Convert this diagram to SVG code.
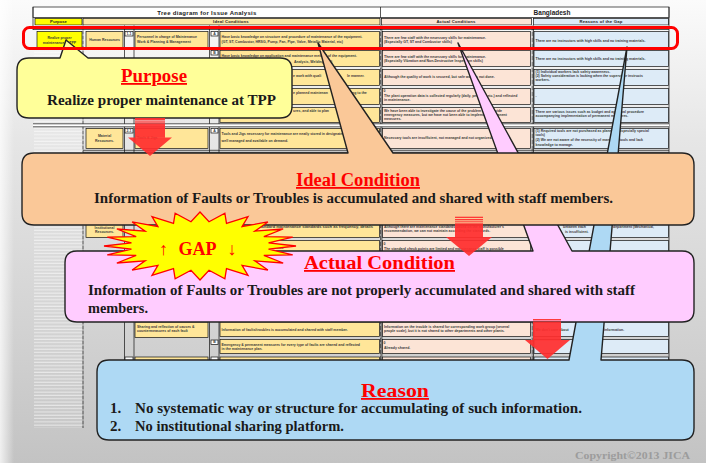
<svg xmlns="http://www.w3.org/2000/svg" width="706" height="463" viewBox="0 0 706 463">
  <defs>
    <linearGradient id="bg" x1="0" y1="0" x2="0" y2="1">
      <stop offset="0" stop-color="#fbfbfb"/>
      <stop offset="0.3" stop-color="#e6e6e6"/>
      <stop offset="0.7" stop-color="#d3d3d3"/>
      <stop offset="1" stop-color="#c3c3c3"/>
    </linearGradient>
    <linearGradient id="edge" x1="0" y1="0" x2="1" y2="0">
      <stop offset="0" stop-color="#ffffff" stop-opacity="0.75"/>
      <stop offset="1" stop-color="#ffffff" stop-opacity="0"/>
    </linearGradient>
    <pattern id="stripes" width="6" height="3.3" patternUnits="userSpaceOnUse">
      <rect y="2.2" width="6" height="1" fill="#ffffff" fill-opacity="0.6"/>
    </pattern>
  </defs>
  <style>
    .c { stroke: #111; stroke-width: 0.7; }
    .w { fill: #ffffff; }
    .cat { fill: #ffe699; }
    .id { fill: #ffe699; }
    .ac { fill: #fce4d6; }
    .rs { fill: #ddebf7; }
    .col { stroke: #111; stroke-width: 0.7; fill: none; }
    .t { font-family: "Liberation Sans", Arial, sans-serif; font-size: 3.5px; font-weight: bold; fill: #3a3a3a; }
    .tc { font-family: "Liberation Sans", Arial, sans-serif; font-size: 3.5px; font-weight: bold; fill: #3a3a3a; text-anchor: middle; }
    .hd { font-family: "Liberation Sans", Arial, sans-serif; font-weight: bold; fill: #222; text-anchor: middle; }
    .call { stroke: #222; stroke-width: 1.4; stroke-linejoin: round; }
    .title { font-family: "Liberation Serif", "Times New Roman", serif; font-weight: bold; font-size: 18px; fill: #ff0000; text-anchor: middle; text-decoration: underline; }
    .body { font-family: "Liberation Serif", "Times New Roman", serif; font-weight: bold; font-size: 15px; fill: #1a1a1a; }
    .arrow { fill: #ff2e2e; fill-opacity: 0.93; }
    .gap { font-family: "Liberation Serif", "DejaVu Serif", serif; font-weight: bold; font-size: 18px; fill: #ff0000; text-anchor: middle; }
  </style>

  <!-- slide background -->
  <rect x="0" y="0" width="706" height="463" fill="url(#bg)"/>
  <rect x="0" y="0" width="14" height="463" fill="url(#edge)"/>

  <!-- issue analysis sheet -->
  <g id="table">
    <rect x="34" y="48" width="48.5" height="380" fill="url(#stripes)"/>
    <!-- header -->
    <rect class="c w" x="33" y="7" width="636" height="10.5"/>
    <line class="col" x1="380.5" y1="7" x2="380.5" y2="17.5"/>
    <text class="hd" x="207" y="15.3" font-size="6px" letter-spacing="0.3">Tree diagram for Issue Analysis</text>
    <text class="hd" x="552" y="15.3" font-size="6.5px">Bangladesh</text>
    <rect class="c" x="35" y="18.5" width="47" height="6.5" fill="#ffff00"/>
    <rect class="c" x="83" y="18.5" width="297" height="6.5" fill="#fde8a6"/>
    <rect class="c ac" x="381.5" y="18.5" width="150" height="6.5"/>
    <rect class="c rs" x="533.5" y="18.5" width="135" height="6.5"/>
    <text class="hd" x="58.5" y="23.3" font-size="4.2px">Purpose</text>
    <text class="hd" x="231" y="23.3" font-size="4.2px" letter-spacing="0.2">Ideal Conditions</text>
    <text class="hd" x="456" y="23.3" font-size="4.2px" letter-spacing="0.2">Actual Conditions</text>
    <text class="hd" x="601" y="23.3" font-size="4.2px" letter-spacing="0.2">Reasons of the Gap</text>
    <rect x="33" y="25.5" width="636" height="4" fill="#ffffff"/>
    <line class="col" x1="33" y1="29.5" x2="669" y2="29.5"/>
    <line class="col" x1="33" y1="7" x2="33" y2="30"/>

    <!-- column rules -->
    <line class="col" x1="83" y1="25.5" x2="83" y2="428" stroke-dasharray="4 1"/>
    <line class="col" x1="124.5" y1="25.5" x2="124.5" y2="430"/>
    <line class="col" x1="134" y1="25.5" x2="134" y2="430"/>
    <line class="col" x1="209.5" y1="25.5" x2="209.5" y2="430"/>
    <line class="col" x1="219" y1="25.5" x2="219" y2="430"/>
    <line class="col" x1="380.6" y1="25.5" x2="380.6" y2="430" stroke-dasharray="5 1"/>
    <line class="col" x1="381.9" y1="25.5" x2="381.9" y2="430"/>
    <line class="col" x1="532.2" y1="25.5" x2="532.2" y2="430" stroke-dasharray="5 1"/>
    <line class="col" x1="533.5" y1="25.5" x2="533.5" y2="430"/>
    <line class="col" x1="669" y1="7" x2="669" y2="430"/>
    <!-- group separators -->
    <rect x="33" y="123.8" width="636" height="3" fill="#ffffff"/>
    <line class="col" x1="33" y1="123.8" x2="669" y2="123.8"/>
    <line class="col" x1="33" y1="126.8" x2="669" y2="126.8"/>
    <line class="col" x1="83" y1="150.3" x2="669" y2="150.3"/>
    <line class="col" x1="83" y1="152.3" x2="669" y2="152.3"/>

    <!-- row 1-1 A -->
    <rect class="c" x="37" y="31.5" width="45" height="16" fill="#ffff00"/>
    <text class="tc" x="59.5" y="38.5">Realize proper</text>
    <text class="tc" x="59.5" y="43.5">maintenance at TPP</text>
    <rect class="c cat" x="86" y="31.5" width="37" height="16"/>
    <text class="tc" x="104.5" y="40.8">Human Resources</text>
    <rect class="c w" x="125" y="31.5" width="8" height="4.5"/>
    <text class="tc" x="129" y="34.9" font-size="3px">1-1</text>
    <rect class="c cat" x="135" y="31.5" width="73" height="16"/>
    <text class="t" x="137" y="37.8">Personnel in charge of Maintenance</text>
    <text class="t" x="137" y="42.8">Work &amp; Planning &amp; Management</text>
    <rect class="c w" x="211" y="31.5" width="7" height="4.5"/>
    <text class="tc" x="214.5" y="34.9" font-size="3px">A</text>
    <rect class="c id" x="220" y="31.5" width="159.5" height="16"/>
    <text class="t" x="221.5" y="37.8">Have basic knowledge on structure and procedure of maintenance of the equipment.</text>
    <text class="t" x="221.5" y="43">(GT, ST, Combustor, HRSG, Pump, Fan, Pipe, Valve, Metallic Material, etc)</text>
    <rect class="c ac" x="382.5" y="31.5" width="148" height="16"/>
    <text class="t" x="384" y="38.5">There are few staff with the necessary skills for maintenance.</text>
    <text class="t" x="384" y="43">(Especially GT, ST and Combustor skills)</text>
    <rect class="c rs" x="534" y="31.5" width="134.5" height="16"/>
    <text class="t" x="535.5" y="41.5">There are no instructors with high skills and no training materials.</text>

    <!-- row B -->
    <rect class="c w" x="211" y="50.5" width="7" height="4.5"/>
    <text class="tc" x="214.5" y="53.9" font-size="3px">B</text>
    <rect class="c id" x="220" y="50.5" width="159.5" height="16"/>
    <text class="t" x="221.5" y="56.5">Have basic knowledge on application and maintenance method of the equipment.</text>
    <text class="t" x="294" y="62.5">Analysis, Welding, etc)</text>
    <rect class="c ac" x="382.5" y="50.5" width="148" height="16"/>
    <text class="t" x="384" y="57.5">There are few staff with the necessary skills for maintenance.</text>
    <text class="t" x="384" y="62">(Especially Vibration and Non-Destructive Inspection skills)</text>
    <rect class="c rs" x="534" y="50.5" width="134.5" height="16"/>
    <text class="t" x="535.5" y="59.5">There are no instructors with high skills and no training materials.</text>

    <!-- row C -->
    <rect class="c id" x="220" y="69.5" width="159.5" height="16"/>
    <text class="t" x="293" y="77">e work with quali</text>
    <text class="t" x="347" y="77">le manner.</text>
    <rect class="c ac" x="382.5" y="69.5" width="148" height="16"/>
    <text class="t" x="384" y="77.5">Although the quality of work is secured, but safe work is not done.</text>
    <rect class="c rs" x="534" y="69.5" width="134.5" height="16"/>
    <text class="t" x="535.5" y="73">(1) Individual workers lack safety awareness.</text>
    <text class="t" x="535.5" y="77">(2) Safety consideration is lacking when the supervisor instructs</text>
    <text class="t" x="535.5" y="81">workers.</text>

    <!-- row D -->
    <rect class="c id" x="220" y="88.5" width="159.5" height="16"/>
    <text class="t" x="293" y="93.5">e planned maintenan</text>
    <text class="t" x="352" y="93.5">ng to the</text>
    <rect class="c ac" x="382.5" y="88.5" width="148" height="16"/>
    <text class="t" x="383.5" y="92" font-size="4.5px">0</text>
    <text class="t" x="384" y="96.5">The plant operation data is collected regularly (daily, per hour etc.) and reflected</text>
    <text class="t" x="384" y="101">in maintenance.</text>
    <rect class="c rs" x="534" y="88.5" width="134.5" height="16"/>
    <text class="t" x="535.5" y="96.5">-</text>

    <!-- row E -->
    <rect class="c id" x="220" y="107.5" width="159.5" height="15"/>
    <text class="t" x="293" y="112">ures, and able to plan</text>
    <rect class="c ac" x="382.5" y="107.5" width="148" height="15"/>
    <text class="t" x="384" y="111.5">We have been able to investigate the cause of the problem and provide</text>
    <text class="t" x="384" y="115.7">emergency measures, but we have not been able to implement permanent</text>
    <text class="t" x="384" y="119.9">measures.</text>
    <rect class="c rs" x="534" y="107.5" width="134.5" height="15"/>
    <text class="t" x="535.5" y="112.5">There are various issues such as budget and approval procedure</text>
    <text class="t" x="535.5" y="117">accompanying implementation of permanent measures.</text>

    <!-- row 2-1 A -->
    <rect class="c cat" x="86" y="128.5" width="37" height="20"/>
    <text class="tc" x="104.5" y="136.5">Material</text>
    <text class="tc" x="104.5" y="141.5">Resources.</text>
    <rect class="c w" x="125" y="128.5" width="8" height="4.5"/>
    <text class="tc" x="129" y="131.9" font-size="3px">2-1</text>
    <rect class="c cat" x="135" y="128.5" width="73" height="20"/>
    <text class="t" x="137" y="138.5">Tools &amp; Jigs</text>
    <rect class="c w" x="211" y="128.5" width="7" height="4.5"/>
    <text class="tc" x="214.5" y="131.9" font-size="3px">A</text>
    <rect class="c id" x="220" y="128.5" width="159.5" height="20"/>
    <text class="t" x="221.5" y="135.3">Tools and Jigs necessary for maintenance are neatly stored in designated place,</text>
    <text class="t" x="221.5" y="141.5">well managed and available on demand.</text>
    <rect class="c ac" x="382.5" y="128.5" width="148" height="20"/>
    <text class="t" x="384" y="138.5">Necessary tools are insufficient, not managed and not organized.</text>
    <rect class="c rs" x="534" y="128.5" width="134.5" height="20"/>
    <text class="t" x="535.5" y="132">(1) Required tools are not purchased as planned. (Especially special</text>
    <text class="t" x="535.5" y="136">tools)</text>
    <text class="t" x="535.5" y="141">(2) We are not aware of the necessity of managing tools and lack</text>
    <text class="t" x="535.5" y="145.5">knowledge to manage.</text>

    <!-- institutional rows -->
    <rect class="c cat" x="86" y="212" width="37" height="25.5"/>
    <text class="tc" x="104.5" y="228.5">Institutional</text>
    <text class="tc" x="104.5" y="233">Resources.</text>
    <rect class="c id" x="220" y="212" width="159.5" height="25.5"/>
    <text class="t" x="258" y="228" textLength="115" lengthAdjust="spacingAndGlyphs">standard maintenance standards such as frequency, details</text>
    <rect class="c ac" x="382.5" y="212" width="148" height="25.5"/>
    <text class="t" x="384" y="227.7">Although there are maintenance standards based on the manufacturer's</text>
    <text class="t" x="384" y="232.2">recommendation, we can not maintain according the standards.</text>
    <rect class="c rs" x="534" y="212" width="134.5" height="25.5"/>
    <text class="t" x="563" y="228">between each</text>
    <text class="t" x="613" y="228">department (Mechanical,</text>
    <text class="t" x="565" y="232.5">is insufficient.</text>

    <rect class="c id" x="220" y="240.5" width="159.5" height="15.5"/>
    <text class="t" x="263" y="248.5">ection skills.</text>
    <rect class="c ac" x="382.5" y="240.5" width="148" height="15.5"/>
    <text class="t" x="383.5" y="245" font-size="4.5px">0</text>
    <text class="t" x="384" y="249.7">The standard check points are limited and maintenance staff is possible</text>
    <rect class="c rs" x="534" y="240.5" width="134.5" height="15.5"/>

    <!-- sharing rows -->
    <rect class="c cat" x="135" y="322" width="73" height="15.5"/>
    <text class="t" x="137" y="327.5">Sharing and reflection of causes &amp;</text>
    <text class="t" x="137" y="332">countermeasures of each fault</text>
    <rect class="c id" x="220" y="322" width="159.5" height="14.5"/>
    <text class="t" x="221.5" y="330.5">Information of faults/troubles is accumulated and shared with staff member.</text>
    <rect class="c ac" x="382.5" y="322" width="148" height="14.5"/>
    <text class="t" x="384" y="327.5">Information on the trouble is shared for corresponding work group (several</text>
    <text class="t" x="384" y="332">people scale), but it is not shared to other departments and other plants.</text>
    <rect class="c rs" x="534" y="322" width="134.5" height="14.5"/>
    <text class="t" x="535.5" y="330.5">We don't care about</text>
    <text class="t" x="604" y="330.5">information.</text>

    <rect class="c w" x="211" y="340" width="7" height="4.5"/>
    <text class="tc" x="214.5" y="343.4" font-size="3px">B</text>
    <rect class="c id" x="220" y="339.5" width="159.5" height="14"/>
    <text class="t" x="221.5" y="345.5">Emergency &amp; permanent measures for every type of faults are shared and reflected</text>
    <text class="t" x="221.5" y="350">in the maintenance plan.</text>
    <rect class="c ac" x="382.5" y="339.5" width="148" height="14"/>
    <text class="t" x="383.5" y="344" font-size="4.5px">0</text>
    <text class="t" x="384" y="349">Already shared.</text>
    <rect class="c rs" x="534" y="339.5" width="134.5" height="14"/>
    <text class="t" x="535.5" y="347">-</text>

    <rect class="c w" x="125" y="357" width="8" height="4.5"/>
    <rect class="c cat" x="135" y="357" width="73" height="15"/>
    <rect class="c w" x="211" y="357" width="7" height="4.5"/>
    <rect class="c id" x="220" y="357" width="159.5" height="15"/>
    <rect class="c ac" x="382.5" y="357" width="148" height="15"/>
    <rect class="c rs" x="534" y="357" width="134.5" height="15"/>
  </g>

  <!-- Reason callout -->
  <g id="reason">
    <path class="call" fill="#aed9f4" d="M109,360 H569 L627,47 L601,360 H682 Q694,360 694,372 V428 Q694,440 682,440 H109 Q97,440 97,428 V372 Q97,360 109,360 Z"/>
    <text class="title" x="395" y="397" textLength="68" lengthAdjust="spacingAndGlyphs">Reason</text>
    <text class="body" x="110" y="413">1.</text>
    <text class="body" x="135" y="413" textLength="447" lengthAdjust="spacingAndGlyphs">No systematic way or structure for accumulating of such information.</text>
    <text class="body" x="110" y="431">2.</text>
    <text class="body" x="135" y="431" textLength="209" lengthAdjust="spacingAndGlyphs">No institutional sharing platform.</text>
  </g>

  <!-- Actual Condition callout -->
  <g id="actual">
    <path class="call" fill="#ffccff" d="M77,251 H533 L458,43 L572,251 H682 Q694,251 694,263 V310 Q694,322 682,322 H77 Q65,322 65,310 V263 Q65,251 77,251 Z"/>
    <text class="title" x="379.5" y="269" textLength="151" lengthAdjust="spacingAndGlyphs">Actual Condition</text>
    <text class="body" x="88" y="295" textLength="547" lengthAdjust="spacingAndGlyphs">Information of Faults or Troubles are not properly accumulated and shared with staff</text>
    <text class="body" x="88" y="313" textLength="60" lengthAdjust="spacingAndGlyphs">members.</text>
  </g>

  <!-- Ideal Condition callout -->
  <g id="ideal">
    <path class="call" fill="#fac898" d="M34,153 H348 L318,43 L393,153 H682 Q694,153 694,165 V213 Q694,225 682,225 H34 Q22,225 22,213 V165 Q22,153 34,153 Z"/>
    <text class="title" x="358" y="186" textLength="124" lengthAdjust="spacingAndGlyphs">Ideal Condition</text>
    <text class="body" x="94" y="203" textLength="519" lengthAdjust="spacingAndGlyphs">Information of Faults or Troubles is accumulated and shared with staff members.</text>
  </g>

  <!-- Purpose callout -->
  <g id="purpose">
    <path class="call" fill="#ffff99" d="M29,58 H60 L66,40 L88,58 H280 Q292,58 292,70 V106 Q292,118 280,118 H29 Q17,118 17,106 V70 Q17,58 29,58 Z"/>
    <text class="title" x="154" y="82" textLength="66" lengthAdjust="spacingAndGlyphs">Purpose</text>
    <text class="body" x="47" y="105" textLength="229" lengthAdjust="spacingAndGlyphs">Realize proper maintenance at TPP</text>
  </g>

  <!-- downward flow arrows -->
  <g id="connectors">
    <g class="arrow">
      <rect x="135" y="118" width="30" height="2.5"/>
      <rect x="135" y="121.3" width="30" height="1.4"/>
      <rect x="135" y="123.3" width="30" height="14.5"/>
      <polygon points="128,137.5 172,137.5 150,156"/>
    </g>
    <g class="arrow">
      <rect x="455" y="216.7" width="28" height="1.3"/>
      <rect x="455" y="219" width="28" height="1.3"/>
      <rect x="455" y="221.3" width="28" height="1"/>
      <rect x="455" y="223.3" width="28" height="14"/>
      <polygon points="446,237 492,237 469,256"/>
    </g>
    <g class="arrow">
      <rect x="533" y="319" width="28" height="1.5"/>
      <rect x="533" y="321.5" width="28" height="18.8"/>
      <polygon points="525,340 570,340 547.5,359"/>
    </g>
  </g>

  <!-- gap burst -->
  <g id="gap">
    <polygon fill="#ffff00" stroke="#ff0000" stroke-width="1.3" vector-effect="non-scaling-stroke" stroke-linejoin="miter"
      transform="translate(200,246) scale(96,34)"
      points="1,0 .714,.094 .966,.259 .665,.276 .866,.5 .571,.438 .707,.707 .438,.571 .5,.866 .276,.665 .259,.966 .094,.714 0,1 -.094,.714 -.259,.966 -.276,.665 -.5,.866 -.438,.571 -.707,.707 -.571,.438 -.866,.5 -.665,.276 -.966,.259 -.714,.094 -1,0 -.714,-.094 -.966,-.259 -.665,-.276 -.866,-.5 -.571,-.438 -.707,-.707 -.438,-.571 -.5,-.866 -.276,-.665 -.259,-.966 -.094,-.714 0,-1 .094,-.714 .259,-.966 .276,-.665 .5,-.866 .438,-.571 .707,-.707 .571,-.438 .866,-.5 .665,-.276 .966,-.259 .714,-.094"/>
    <text class="gap" x="163.5" y="255">↑</text>
    <text class="gap" x="197.5" y="255">GAP</text>
    <text class="gap" x="232" y="255">↓</text>
  </g>

  <!-- highlighted row -->
  <g id="highlight">
    <rect x="23.5" y="27.5" width="654" height="21" rx="6" fill="none" stroke="#ff0000" stroke-width="3"/>
  </g>

  <text x="690" y="459" text-anchor="end" font-family="'Liberation Serif', serif" font-weight="bold" font-size="11px" fill="#9c9c9c" textLength="115" lengthAdjust="spacingAndGlyphs">Copyright©2013 JICA</text>
</svg>
